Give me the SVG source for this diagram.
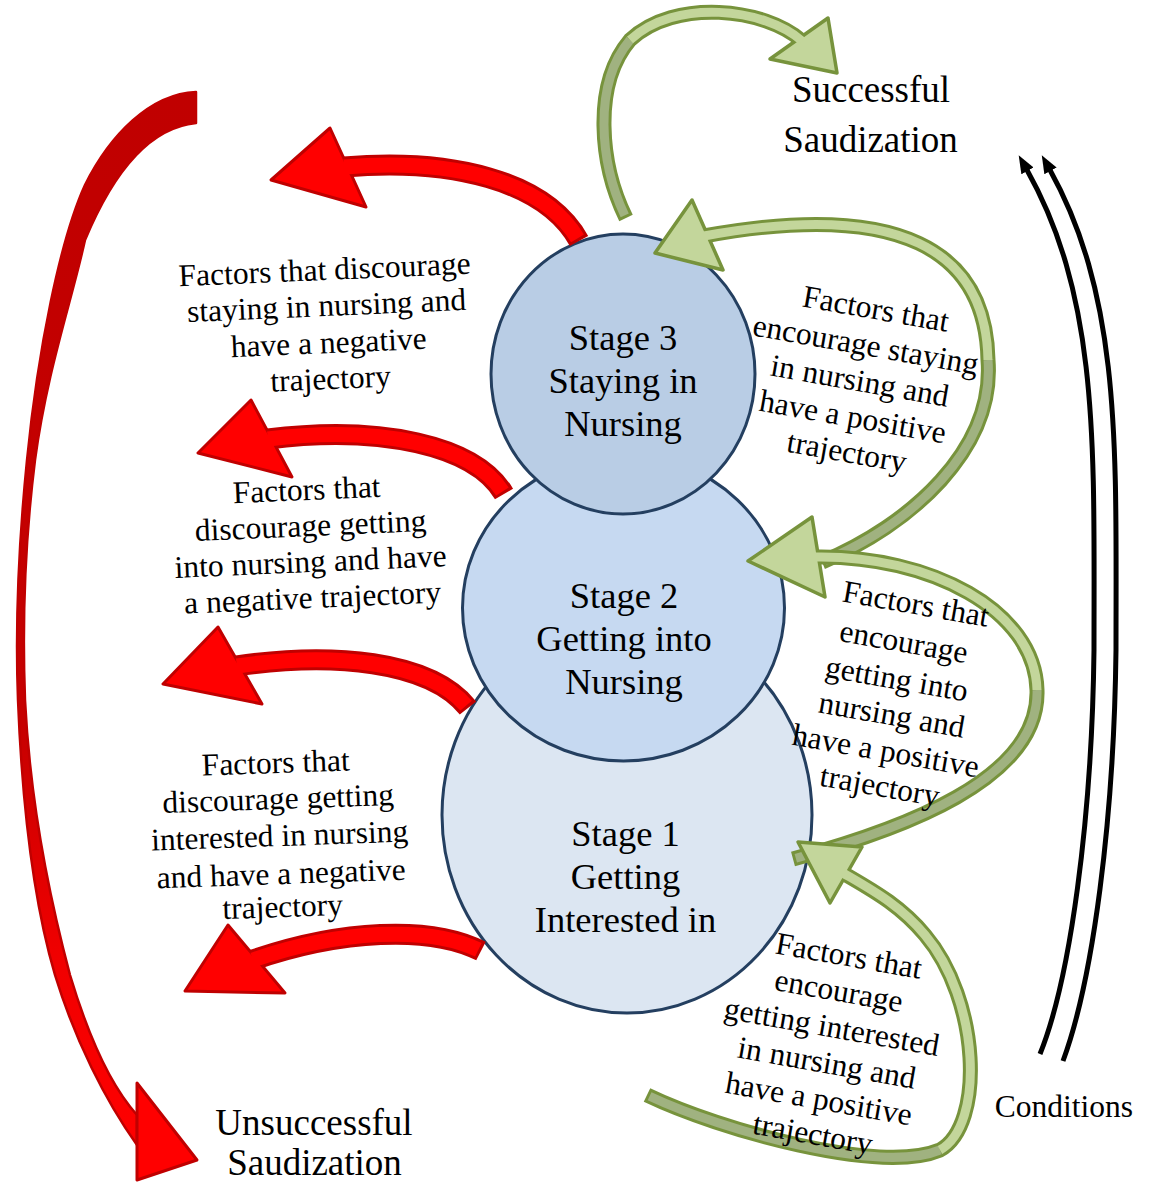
<svg xmlns="http://www.w3.org/2000/svg" width="1152" height="1182" viewBox="0 0 1152 1182">
<defs>
<style>
text{font-family:"Liberation Serif","Times New Roman",serif;fill:#000;text-anchor:middle}
.st{font-size:36.5px}
.big{font-size:37px}
.lb{font-size:31.5px}
.node ellipse{stroke:#243F60;stroke-width:3}
.ro{fill:none;stroke:#C00000;stroke-width:21}
.ri{fill:none;stroke:#FF0000;stroke-width:15;stroke-dasharray:0 3 9999}
.rh{fill:#FF0000;stroke:#C00000;stroke-width:3;stroke-linejoin:round}
.go{fill:none;stroke:#77933C;stroke-width:15}
.gi{fill:none;stroke:#C3D69B;stroke-width:9}
.gd{fill:none;stroke:#A0B280;stroke-width:9;stroke-dasharray:0 3 9999}
.gh{fill:#C3D69B;stroke:#77933C;stroke-width:3.5;stroke-linejoin:round}
.bk{fill:none;stroke:#000;stroke-width:5;marker-end:url(#bh)}
</style>
<marker id="bh" markerUnits="userSpaceOnUse" viewBox="0 0 18 14" markerWidth="18" markerHeight="14" refX="1" refY="7" orient="auto"><path d="M0 0 L18 7 L0 14 Z" fill="#000"/></marker>
<linearGradient id="bandg" x1="0" y1="0" x2="0" y2="1">
<stop offset="0" stop-color="#C00000"/>
<stop offset="0.6" stop-color="#C60000"/>
<stop offset="0.82" stop-color="#F00000"/>
<stop offset="1" stop-color="#FF0000"/>
</linearGradient>
</defs>
<rect width="1152" height="1182" fill="#FFFFFF"/>

<g id="nodes">
<g id="stage1" class="node">
<ellipse cx="627" cy="815" rx="185" ry="198" fill="#DCE6F2"/>
<text class="st" x="625.5" y="846">Stage 1</text>
<text class="st" x="625.5" y="889">Getting</text>
<text class="st" x="625.5" y="932">Interested in</text>
</g>
<g id="stage2" class="node">
<ellipse cx="623.5" cy="608" rx="161" ry="153" fill="#C6D9F1"/>
<text class="st" x="624" y="608">Stage 2</text>
<text class="st" x="624" y="651">Getting into</text>
<text class="st" x="624" y="694">Nursing</text>
</g>
<g id="stage3" class="node">
<ellipse cx="623" cy="374" rx="132" ry="140" fill="#B9CDE5"/>
<text class="st" x="623" y="350">Stage 3</text>
<text class="st" x="623" y="393">Staying in</text>
<text class="st" x="623" y="436">Nursing</text>
</g>
<g id="successful">
<text class="big" x="871" y="102">Successful</text>
<text class="big" x="870.5" y="152">Saudization</text>
</g>
<g id="unsuccessful">
<text class="big" x="314" y="1135">Unsuccessful</text>
<text class="big" x="314.5" y="1175">Saudization</text>
</g>
<g id="conditions">
<text x="1064" y="1117" style="font-size:31.5px">Conditions</text>
</g>
</g>

<g id="connectors">
<!-- big red arrow to Unsuccessful -->
<path d="M196 92 C150 94 110 135 85 185 C60 240 38 350 27 460 C20 530 15 620 18 700 C22 800 33 900 55 975 C75 1040 105 1100 137 1145 L137 1115 C110 1085 88 1035 70 975 C50 900 30 800 25 700 C22 620 25 540 35 460 C47 370 72 300 85 240 C110 180 145 128 196 123 Z" fill="url(#bandg)" stroke="#C00000" stroke-width="2.5" stroke-linejoin="round"/>
<polygon class="rh" points="137,1083 197,1160 137,1180"/>

<!-- red arrows -->
<path class="ro" d="M579 241 C545 180 450 158 344 167"/>
<polygon class="rh" points="330,128 271,180 366,207"/>
<path class="ri" d="M579 241 C545 180 450 158 344 167"/>

<path class="ro" d="M504 494 C475 445 380 425 268 439"/>
<polygon class="rh" points="251,400 198,453 292,477"/>
<path class="ri" d="M504 494 C475 445 380 425 268 439"/>

<path class="ro" d="M468 708 C430 660 330 652 237 666"/>
<polygon class="rh" points="218,627 163,684 262,704"/>
<path class="ri" d="M468 708 C430 660 330 652 237 666"/>

<path class="ro" d="M481 951 C430 925 340 930 253 960"/>
<polygon class="rh" points="228,925 185,991 285,993"/>
<path class="ri" d="M481 951 C430 925 340 930 253 960"/>

<!-- green A: to Successful -->
<path class="go" d="M626 218 C600 165 592 85 630 40 C675 -2 765 8 802 41"/>
<polygon class="gh" points="828,18 837,73 770,59"/>
<path class="gd" d="M626 218 C600 165 592 85 630 40"/>
<path class="gi" d="M630 40 C675 -2 765 8 802 41"/>

<!-- green B: to Stage 3 -->
<path class="go" d="M822 562 C910 525 995 450 988 360 C986 250 900 200 704 236"/>
<polygon class="gh" points="692,200 723,270 655,253"/>
<path class="gd" d="M822 562 C910 525 995 450 988 360"/>
<path class="gi" d="M988 360 C986 250 900 200 704 236"/>

<!-- green C: to Stage 2 -->
<path class="go" d="M793 859 C900 830 1040 780 1037 690 C1035 610 930 555 815 557"/>
<polygon class="gh" points="812,517 825,597 748,561"/>
<path class="gd" d="M793 859 C900 830 1040 780 1037 690"/>
<path class="gi" d="M1037 690 C1035 610 930 555 815 557"/>

<!-- green D: to Stage 1 -->
<path class="go" d="M647 1095 C720 1130 880 1175 940 1150 C985 1125 980 1000 925 935 C900 905 872 890 843 873"/>
<polygon class="gh" points="798,842 862,847 830,903"/>
<path class="gd" d="M647 1095 C720 1130 880 1175 940 1150"/>
<path class="gi" d="M940 1150 C985 1125 980 1000 925 935 C900 905 872 890 843 873"/>

<!-- conditions arrows -->
<path class="bk" d="M1040 1054 C1070 980 1092 820 1094 650 C1094 450 1100 300 1027 170"/>
<path class="bk" d="M1063 1061 C1093 980 1114 820 1116 650 C1116 450 1122 300 1050 170"/>
</g>

<g id="labels" class="lb">
<g id="neg3">
<text class="lb" x="325" y="280" transform="rotate(-2.5 325 280)">Factors that discourage</text>
<text class="lb" x="327" y="316" transform="rotate(-2.5 327 316)">staying in nursing and</text>
<text class="lb" x="329" y="353" transform="rotate(-2.5 329 353)">have a negative</text>
<text class="lb" x="331" y="389" transform="rotate(-2.5 331 389)">trajectory</text>
</g>
<g id="neg2">
<text class="lb" x="307" y="500" transform="rotate(-2.5 307 500)">Factors that</text>
<text class="lb" x="311" y="536" transform="rotate(-2.5 311 536)">discourage getting</text>
<text class="lb" x="311" y="572" transform="rotate(-2.5 311 572)">into nursing and have</text>
<text class="lb" x="313" y="608" transform="rotate(-2.5 313 608)">a negative trajectory</text>
</g>
<g id="neg1">
<text class="lb" x="276" y="773" transform="rotate(-2 276 773)">Factors that</text>
<text class="lb" x="278.5" y="809" transform="rotate(-2 278.5 809)">discourage getting</text>
<text class="lb" x="280" y="846" transform="rotate(-2 280 846)">interested in nursing</text>
<text class="lb" x="281.5" y="884" transform="rotate(-2 281.5 884)">and have a negative</text>
<text class="lb" x="283" y="917" transform="rotate(-2 283 917)">trajectory</text>
</g>
<g id="pos3">
<text class="lb" x="874" y="319" transform="rotate(10 874 319)">Factors that</text>
<text class="lb" x="864" y="355" transform="rotate(10 864 355)">encourage staying</text>
<text class="lb" x="858" y="391" transform="rotate(10 858 391)">in nursing and</text>
<text class="lb" x="851" y="427" transform="rotate(10 851 427)">have a positive</text>
<text class="lb" x="845" y="462" transform="rotate(10 845 462)">trajectory</text>
</g>
<g id="pos2">
<text class="lb" x="914" y="614" transform="rotate(10 914 614)">Factors that</text>
<text class="lb" x="902" y="652" transform="rotate(10 902 652)">encourage</text>
<text class="lb" x="895" y="689" transform="rotate(10 895 689)">getting into</text>
<text class="lb" x="890" y="725" transform="rotate(10 890 725)">nursing and</text>
<text class="lb" x="884" y="761" transform="rotate(10 884 761)">have a positive</text>
<text class="lb" x="878" y="796" transform="rotate(10 878 796)">trajectory</text>
</g>
<g id="pos1">
<text class="lb" x="847" y="966" transform="rotate(10 847 966)">Factors that</text>
<text class="lb" x="837" y="1001" transform="rotate(10 837 1001)">encourage</text>
<text class="lb" x="830" y="1037" transform="rotate(10 830 1037)">getting interested</text>
<text class="lb" x="825" y="1073" transform="rotate(10 825 1073)">in nursing and</text>
<text class="lb" x="817" y="1109" transform="rotate(10 817 1109)">have a positive</text>
<text class="lb" x="811" y="1144" transform="rotate(10 811 1144)">trajectory</text>
</g>
</g>
</svg>
